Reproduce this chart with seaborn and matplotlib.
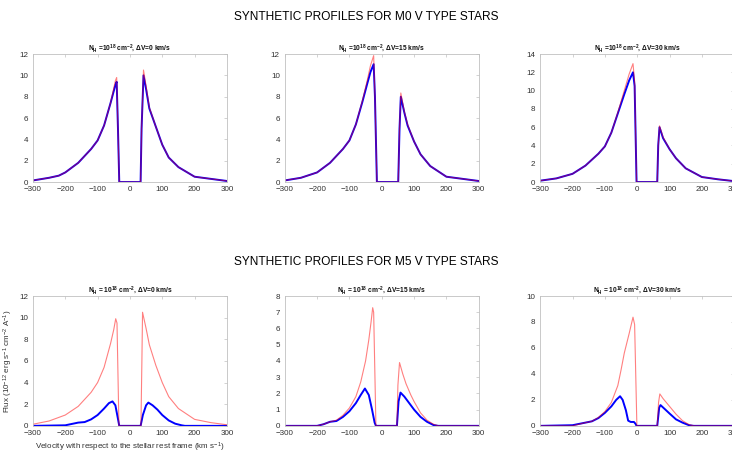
import numpy as np
import pandas as pd
import matplotlib
matplotlib.use("Agg")
import matplotlib.pyplot as plt
import seaborn as sns

# ---------------- data ----------------
# Top row: M0 V, N_H = 1e18
m0_dv0_v = [-300, -250, -220, -200, -160, -120, -100, -80, -60, -45, -41, -37, -33,
            33, 36, 42, 50, 60, 80, 100, 120, 150, 200, 250, 300]
m0_dv0_red = [0.15, 0.4, 0.6, 0.9, 1.8, 3.1, 3.9, 5.3, 7.4, 9.5, 9.8, 5.0, 0,
              0, 5.0, 10.5, 9.0, 7.0, 5.2, 3.5, 2.3, 1.4, 0.5, 0.3, 0.1]
m0_dv0_blue = [0.15, 0.4, 0.6, 0.9, 1.8, 3.1, 3.9, 5.3, 7.4, 9.1, 9.4, 5.0, 0,
               0, 5.0, 10.0, 8.7, 6.9, 5.2, 3.5, 2.3, 1.4, 0.5, 0.3, 0.1]

m0_dv15_v = [-300, -250, -200, -160, -120, -100, -80, -60, -45, -35, -25, -21, -15,
             51, 55, 59, 70, 80, 100, 120, 150, 200, 250, 300]
m0_dv15_red = [0.15, 0.4, 0.9, 1.8, 3.1, 3.9, 5.4, 7.6, 9.5, 10.9, 11.85, 8.0, 0,
               0, 5.0, 8.35, 6.6, 5.4, 3.8, 2.6, 1.5, 0.5, 0.3, 0.1]
m0_dv15_blue = [0.15, 0.4, 0.9, 1.8, 3.1, 3.9, 5.4, 7.5, 9.2, 10.3, 11.05, 8.0, 0,
                0, 5.0, 8.0, 6.5, 5.3, 3.8, 2.6, 1.5, 0.5, 0.3, 0.1]

m0_dv30_v = [-300, -250, -200, -160, -120, -100, -80, -60, -40, -25, -13, -8, -2,
             62, 65, 69, 80, 100, 120, 150, 200, 250, 300]
m0_dv30_red = [0.15, 0.4, 0.9, 1.8, 3.1, 3.9, 5.4, 7.6, 10.0, 11.8, 12.95, 11.0, 0,
               0, 4.0, 6.15, 4.9, 3.6, 2.6, 1.5, 0.55, 0.3, 0.1]
m0_dv30_blue = [0.15, 0.4, 0.9, 1.8, 3.1, 3.9, 5.4, 7.5, 9.6, 11.1, 12.0, 10.5, 0,
                0, 4.0, 6.0, 4.8, 3.6, 2.6, 1.5, 0.55, 0.3, 0.1]

# Bottom row: M5 V
m5_dv0_vr = [-300, -250, -200, -160, -120, -100, -80, -60, -50, -44, -40, -34,
             34, 37, 39, 50, 60, 80, 100, 120, 150, 200, 250, 300]
m5_dv0_red = [0.15, 0.45, 1.0, 1.8, 3.1, 4.0, 5.4, 7.6, 8.9, 9.9, 9.5, 0,
              0, 6.0, 10.5, 9.0, 7.5, 5.6, 4.0, 2.7, 1.6, 0.6, 0.3, 0.1]
m5_dv0_vb = [-300, -200, -160, -140, -120, -100, -80, -65, -54, -45, -38, -33,
             33, 40, 50, 57, 70, 85, 100, 120, 140, 160, 170, 300]
m5_dv0_blue = [0, 0.05, 0.3, 0.35, 0.6, 1.0, 1.6, 2.1, 2.26, 1.9, 0.8, 0,
               0, 1.0, 1.9, 2.15, 1.9, 1.5, 1.0, 0.5, 0.2, 0.05, 0, 0]

m5_dv15_vr = [-300, -200, -180, -160, -140, -120, -100, -80, -65, -50, -40, -33, -28, -25, -18,
              47, 50, 55, 65, 75, 90, 100, 120, 140, 160, 175, 300]
m5_dv15_red = [0, 0, 0.1, 0.25, 0.35, 0.65, 1.1, 1.8, 2.7, 4.0, 5.3, 6.4, 7.28, 7.0, 0,
               0, 2.5, 3.9, 3.2, 2.6, 1.9, 1.5, 0.8, 0.35, 0.1, 0, 0]
m5_dv15_vb = [-300, -200, -180, -160, -140, -120, -100, -80, -65, -52, -40, -30, -22, -18,
              47, 52, 58, 70, 85, 100, 120, 140, 160, 175, 300]
m5_dv15_blue = [0, 0, 0.1, 0.25, 0.3, 0.55, 0.9, 1.4, 1.9, 2.3, 1.9, 1.0, 0.2, 0,
                0, 1.5, 2.05, 1.8, 1.4, 1.0, 0.55, 0.25, 0.05, 0, 0]

m5_dv30_vr = [-300, -200, -160, -140, -120, -100, -80, -60, -50, -40, -25, -13, -8, -1,
              62, 66, 70, 80, 100, 120, 140, 160, 175, 300]
m5_dv30_red = [0, 0, 0.25, 0.35, 0.65, 1.1, 1.8, 3.1, 4.3, 5.6, 7.1, 8.37, 7.8, 0,
               0, 1.8, 2.46, 2.1, 1.5, 0.9, 0.4, 0.1, 0, 0]
m5_dv30_vb = [-300, -200, -160, -140, -120, -100, -80, -65, -53, -45, -35, -28, -20, -10, -5, -2,
              62, 68, 72, 85, 100, 120, 140, 160, 175, 300]
m5_dv30_blue = [0, 0.05, 0.25, 0.35, 0.6, 1.0, 1.5, 2.0, 2.28, 2.0, 1.2, 0.4, 0.3, 0.3, 0.15, 0,
                0, 1.4, 1.6, 1.3, 0.95, 0.5, 0.25, 0.05, 0, 0]

panel_titles = [
    r"$\mathbf{N_H}$ =10$^{\mathbf{18}}$ cm$^{\mathbf{-2}}$, $\mathbf{\Delta}$V=0 km/s",
    r"$\mathbf{N_H}$ =10$^{\mathbf{18}}$ cm$^{\mathbf{-2}}$, $\mathbf{\Delta}$V=15 km/s",
    r"$\mathbf{N_H}$ =10$^{\mathbf{18}}$ cm$^{\mathbf{-2}}$, $\mathbf{\Delta}$V=30 km/s",
    r"$\mathbf{N_H}$ = 10$^{\mathbf{18}}$ cm$^{\mathbf{-2}}$, $\mathbf{\Delta}$V=0 km/s",
    r"$\mathbf{N_H}$ = 10$^{\mathbf{18}}$ cm$^{\mathbf{-2}}$, $\mathbf{\Delta}$V=15 km/s",
    r"$\mathbf{N_H}$ = 10$^{\mathbf{18}}$ cm$^{\mathbf{-2}}$, $\mathbf{\Delta}$V=30 km/s",
]
row_titles = ["SYNTHETIC PROFILES FOR M0 V TYPE STARS",
              "SYNTHETIC PROFILES FOR M5 V TYPE STARS"]
y_max = [12, 12, 14, 12, 8, 10]
y_step = [2, 2, 2, 2, 1, 2]
x_ticks = [-300, -200, -100, 0, 100, 200, 300]

panels = [
    (m0_dv0_v, m0_dv0_red, m0_dv0_v, m0_dv0_blue),
    (m0_dv15_v, m0_dv15_red, m0_dv15_v, m0_dv15_blue),
    (m0_dv30_v, m0_dv30_red, m0_dv30_v, m0_dv30_blue),
    (m5_dv0_vr, m5_dv0_red, m5_dv0_vb, m5_dv0_blue),
    (m5_dv15_vr, m5_dv15_red, m5_dv15_vb, m5_dv15_blue),
    (m5_dv30_vr, m5_dv30_red, m5_dv30_vb, m5_dv30_blue),
]

# ---------------- styling ----------------
sns.set_style("white")
plt.rcParams["font.family"] = ["Liberation Sans", "DejaVu Sans"]
plt.rcParams["mathtext.fontset"] = "custom"
plt.rcParams["mathtext.rm"] = "Liberation Sans"
plt.rcParams["mathtext.bf"] = "Liberation Sans:bold"
plt.rcParams["mathtext.it"] = "Liberation Sans:italic"

fig = plt.figure(figsize=(7.32, 4.54), dpi=100)

positions = [
    [0.045, 0.599, 0.265, 0.282],
    [0.389, 0.599, 0.265, 0.282],
    [0.738, 0.599, 0.265, 0.282],
    [0.045, 0.062, 0.265, 0.286],
    [0.389, 0.062, 0.265, 0.286],
    [0.738, 0.062, 0.265, 0.286],
]

spine_col = "#c0c0c0"
for i, (pos, (vr, fr, vb, fb)) in enumerate(zip(positions, panels)):
    ax = fig.add_axes(pos)
    dfb = pd.DataFrame({"v": vb, "flux": fb})
    dfr = pd.DataFrame({"v": vr, "flux": fr})
    sns.lineplot(data=dfb, x="v", y="flux", ax=ax, color="#0000ff", lw=1.4,
                 estimator=None, sort=False)
    sns.lineplot(data=dfr, x="v", y="flux", ax=ax, color="#ff0000", lw=0.8,
                 alpha=0.5, estimator=None, sort=False)
    ax.set_xlim(-300, 300)
    ax.set_ylim(0, y_max[i])
    ax.set_xticks(x_ticks)
    ax.set_yticks(np.arange(0, y_max[i] + 0.1, y_step[i]))
    ax.tick_params(direction="in", length=2.5, width=0.5, colors=spine_col,
                   labelcolor="#303030", labelsize=5.8, top=True, right=True)
    ax.tick_params(axis="y", pad=3.5)
    ax.tick_params(axis="x", pad=3)
    for s in ax.spines.values():
        s.set_color(spine_col)
        s.set_linewidth(0.6)
    ax.set_xlabel("")
    ax.set_ylabel("")
    ax.set_title(panel_titles[i], fontsize=4.8, fontweight="bold", pad=2.5,
                 color="#101010")
    if i == 3:
        ax.set_ylabel(r"Flux (10$^{-12}$ erg s$^{-1}$ cm$^{-2}$ A$^{-1}$)",
                      fontsize=5.8, labelpad=3, color="#303030")
        ax.set_xlabel(r"Velocity with respect to the stellar rest frame (km s$^{-1}$)",
                      fontsize=5.8, labelpad=3, color="#303030")

fig.text(0.5, 0.962, row_titles[0], ha="center", va="center", fontsize=8.6,
         color="#000000")
fig.text(0.5, 0.423, row_titles[1], ha="center", va="center", fontsize=8.6,
         color="#000000")

fig.savefig("out.png", dpi=100)
